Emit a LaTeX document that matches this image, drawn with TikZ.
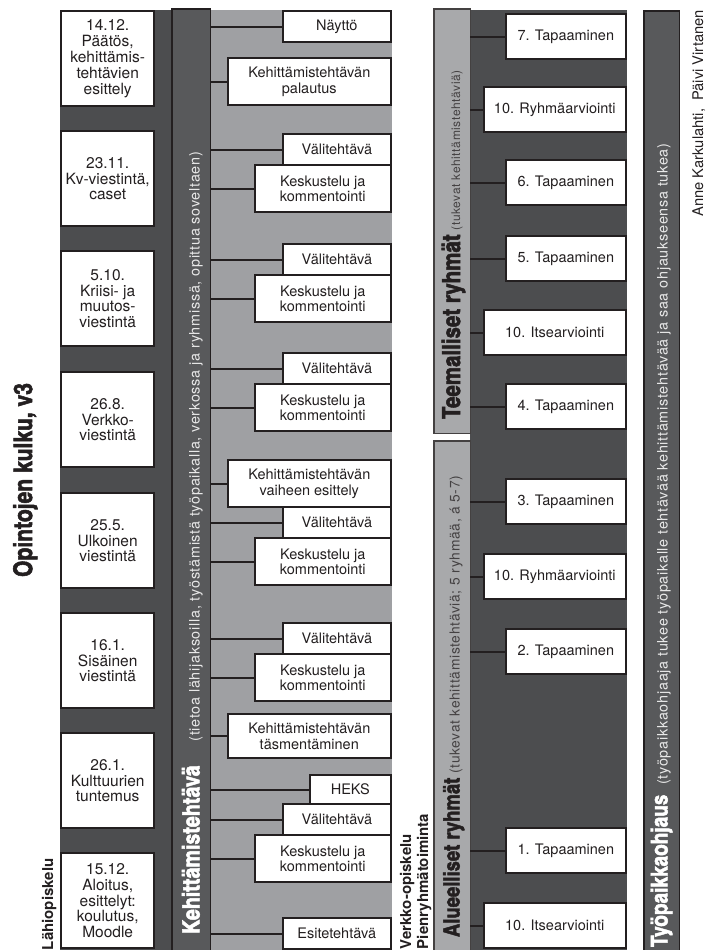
\documentclass[tikz,border=0pt]{standalone}
\usepackage{fontspec}
\setmainfont{TeX Gyre Heros}
\newfontfamily\heavycn{texgyreheroscn-bold.otf}[FakeBold=2]
\newfontfamily\spaced{TeX Gyre Heros}[LetterSpace=5]
\definecolor{ink}{HTML}{231F20}
\definecolor{darkbg}{HTML}{4C4D4F}
\definecolor{barfill}{HTML}{58595B}
\definecolor{lightbg}{HTML}{9FA0A3}
\definecolor{groupfill}{HTML}{A8A9AB}
\definecolor{paletext}{HTML}{E8E8E8}

\begin{document}
\begin{tikzpicture}[x=1pt, y=-1pt,
  every node/.style={inner sep=0pt, outer sep=0pt, text=ink},
  box/.style={draw=ink, fill=white, line width=2.4pt, align=center},
  datebox/.style={box, anchor=north west, minimum width=93pt, minimum height=95pt, font=\fontsize{15.5}{15.8}\selectfont},
  taskbox/.style={box, anchor=north east, minimum height=31pt, font=\fontsize{14.5}{15.5}\selectfont},
  midbox/.style={taskbox, minimum width=108pt},
  talkbox/.style={taskbox, minimum width=136pt, minimum height=47pt},
  widebox/.style={taskbox, minimum width=163pt, minimum height=47pt},
  meetbox/.style={box, anchor=north east, minimum width=120pt, minimum height=45pt, font=\fontsize{14.5}{15.5}\selectfont},
  evalbox/.style={meetbox, minimum width=142pt},
  bar/.style={draw=ink, line width=1.5pt, fill=barfill, anchor=north west},
  groupbar/.style={draw=ink!85, line width=1.5pt, fill=groupfill, anchor=north west},
  wire/.style={draw=ink, line width=2.2pt},
  barlabel/.style={rotate=90, anchor=base west},
  sidelabel/.style={rotate=90, anchor=base west, font=\bfseries\fontsize{15}{15}\selectfont}
]
  \useasboundingbox (0,0) rectangle (705,950);
  \fill[darkbg] (60,10) rectangle (172,955);
  \fill[lightbg] (210,10) rectangle (392,955);
  \fill[darkbg] (470,10) rectangle (627,955);

  \node[bar, minimum width=38.5pt, minimum height=950pt] (kt) at (171.8,8.8) {};
  \node[groupbar, minimum width=36.5pt, minimum height=424.5pt] (teema) at (433.8,8.8) {};
  \node[groupbar, minimum width=36.5pt, minimum height=520pt] (alue) at (433.8,440.8) {};
  \node[bar, minimum width=35.5pt, minimum height=950pt] (tpo) at (643.8,10.8) {};

  \node[datebox] (d1) at (61.2,11.2) {14.12.\\Päätös,\\kehittämis-\\tehtävien\\esittely};
  \node[datebox] (d2) at (61.2,131.2) {23.11.\\Kv-viestintä,\\caset};
  \node[datebox] (d3) at (61.2,251.2) {5.10.\\Kriisi- ja\\muutos-\\viestintä};
  \node[datebox] (d4) at (61.2,372.2) {26.8.\\Verkko-\\viestintä};
  \node[datebox] (d5) at (61.2,493.2) {25.5.\\Ulkoinen\\viestintä};
  \node[datebox] (d6) at (61.2,613.2) {16.1.\\Sisäinen\\viestintä};
  \node[datebox] (d7) at (61.2,733.2) {26.1.\\Kulttuurien\\tuntemus};
  \node[datebox] (d8) at (61.2,853.2) {15.12.\\Aloitus,\\esittelyt:\\koulutus,\\Moodle};

  \node[midbox] (g1) at (390.8,11.2) {Näyttö};
  \node[widebox] (g2) at (390.8,58.2) {Kehittämistehtävän\\palautus};
  \node[midbox] (g3) at (390.8,134.2) {Välitehtävä};
  \node[talkbox] (g4) at (g3.south east) {Keskustelu ja\\kommentointi};
  \node[midbox] (g5) at (390.8,244.2) {Välitehtävä};
  \node[talkbox] (g6) at (g5.south east) {Keskustelu ja\\kommentointi};
  \node[midbox] (g7) at (390.8,353.2) {Välitehtävä};
  \node[talkbox] (g8) at (g7.south east) {Keskustelu ja\\kommentointi};
  \node[widebox] (g9) at (390.8,460.2) {Kehittämistehtävän\\vaiheen esittely};
  \node[midbox] (g10) at (g9.south east) {Välitehtävä};
  \node[talkbox] (g11) at (g10.south east) {Keskustelu ja\\kommentointi};
  \node[midbox] (g12) at (390.8,623.2) {Välitehtävä};
  \node[talkbox] (g13) at (g12.south east) {Keskustelu ja\\kommentointi};
  \node[widebox, minimum height=44pt] (g14) at (390.8,714.2) {Kehittämistehtävän\\täsmentäminen};
  \node[taskbox, minimum width=81pt, minimum height=29pt] (g15) at (390.8,775.2) {HEKS};
  \node[midbox] (g16) at (g15.south east) {Välitehtävä};
  \node[talkbox] (g17) at (g16.south east) {Keskustelu ja\\kommentointi};
  \node[midbox] (g18) at (390.8,918.2) {Esitetehtävä};

  \node[meetbox] (m1) at (625.8,14.2) {7. Tapaaminen};
  \node[evalbox] (m2) at (625.8,87.2) {10. Ryhmäarviointi};
  \node[meetbox] (m3) at (625.8,160.2) {6. Tapaaminen};
  \node[meetbox] (m4) at (625.8,236.2) {5. Tapaaminen};
  \node[evalbox] (m5) at (625.8,310.2) {10. Itsearviointi};
  \node[meetbox] (m6) at (625.8,384.2) {4. Tapaaminen};
  \node[meetbox] (m7) at (625.8,479.2) {3. Tapaaminen};
  \node[evalbox] (m8) at (625.8,554.2) {10. Ryhmäarviointi};
  \node[meetbox] (m9) at (625.8,629.2) {2. Tapaaminen};
  \node[meetbox] (m10) at (625.8,828.2) {1. Tapaaminen};
  \node[evalbox] (m11) at (625.8,903.2) {10. Itsearviointi};

  \draw[wire] (g1.west) -- (g1.west -| kt.east);
  \draw[wire] (g2.west) -- (g2.west -| kt.east);
  \draw[wire] (g3.west) -- (g3.west -| kt.east);
  \draw[wire] (g4.west) -- (g4.west -| kt.east);
  \draw[wire] (g5.west) -- (g5.west -| kt.east);
  \draw[wire] (g6.west) -- (g6.west -| kt.east);
  \draw[wire] (g7.west) -- (g7.west -| kt.east);
  \draw[wire] (g8.west) -- (g8.west -| kt.east);
  \draw[wire] (g9.west) -- (g9.west -| kt.east);
  \draw[wire] (g10.west) -- (g10.west -| kt.east);
  \draw[wire] (g11.west) -- (g11.west -| kt.east);
  \draw[wire] (g12.west) -- (g12.west -| kt.east);
  \draw[wire] (g13.west) -- (g13.west -| kt.east);
  \draw[wire] (g14.west) -- (g14.west -| kt.east);
  \draw[wire] (g15.west) -- (g15.west -| kt.east);
  \draw[wire] (g16.west) -- (g16.west -| kt.east);
  \draw[wire] (g17.west) -- (g17.west -| kt.east);
  \draw[wire] (g18.west) -- (g18.west -| kt.east);
  \draw[wire] (m1.west) -- (m1.west -| teema.east);
  \draw[wire] (m2.west) -- (m2.west -| teema.east);
  \draw[wire] (m3.west) -- (m3.west -| teema.east);
  \draw[wire] (m4.west) -- (m4.west -| teema.east);
  \draw[wire] (m5.west) -- (m5.west -| teema.east);
  \draw[wire] (m6.west) -- (m6.west -| teema.east);
  \draw[wire] (m7.west) -- (m7.west -| alue.east);
  \draw[wire] (m8.west) -- (m8.west -| alue.east);
  \draw[wire] (m9.west) -- (m9.west -| alue.east);
  \draw[wire] (m10.west) -- (m10.west -| alue.east);
  \draw[wire] (m11.west) -- (m11.west -| alue.east);

  \node[barlabel, text=white] (ktlabel) at (199.5,934) {{\heavycn\fontsize{24}{24}\selectfont Kehittämistehtävä}\hspace{24pt}{\spaced\fontsize{14.4}{15}\selectfont\color{paletext}(tietoa lähijaksoilla, työstämistä työpaikalla, verkossa ja ryhmissä, opittua soveltaen)}};
  \node[barlabel] (teemalabel) at (460,419) {{\heavycn\fontsize{25}{25}\selectfont Teemalliset ryhmät}\hspace{4pt}{\spaced\fontsize{12}{13}\selectfont\color{ink!85}(tukevat kehittämistehtäviä)}};
  \node[barlabel] (aluelabel) at (459.5,937) {{\heavycn\fontsize{22.5}{22.5}\selectfont Alueelliset ryhmät}\hspace{4pt}{\spaced\fontsize{13.8}{14}\selectfont\color{ink!85}(tukevat kehittämistehtäviä; 5 ryhmää, á 5-7)}};
  \node[barlabel, text=white] (tpolabel) at (667.5,947) {{\heavycn\fontsize{23.2}{23.2}\selectfont Työpaikkaohjaus}\hspace{10pt}{\spaced\fontsize{14.4}{15}\selectfont\color{paletext}(työpaikkaohjaaja tukee työpaikalle tehtävää kehittämistehtävää ja saa ohjaukseensa tukea)}};

  \node[rotate=90, anchor=base] (title) at (32,480) {\heavycn\fontsize{25.7}{25.7}\selectfont Opintojen kulku, v3};
  \node[sidelabel] (lahi) at (53,950) {Lähiopiskelu};
  \node[sidelabel] (verkko) at (411,949) {Verkko-opiskelu};
  \node[sidelabel] (pienr) at (428,949) {Pienryhmätoiminta};
  \node[rotate=90, anchor=base east, font=\fontsize{14.7}{15}\selectfont] (authors) at (703,10) {Anne Karkulahti,\ \ Päivi Virtanen};
\end{tikzpicture}
\end{document}
